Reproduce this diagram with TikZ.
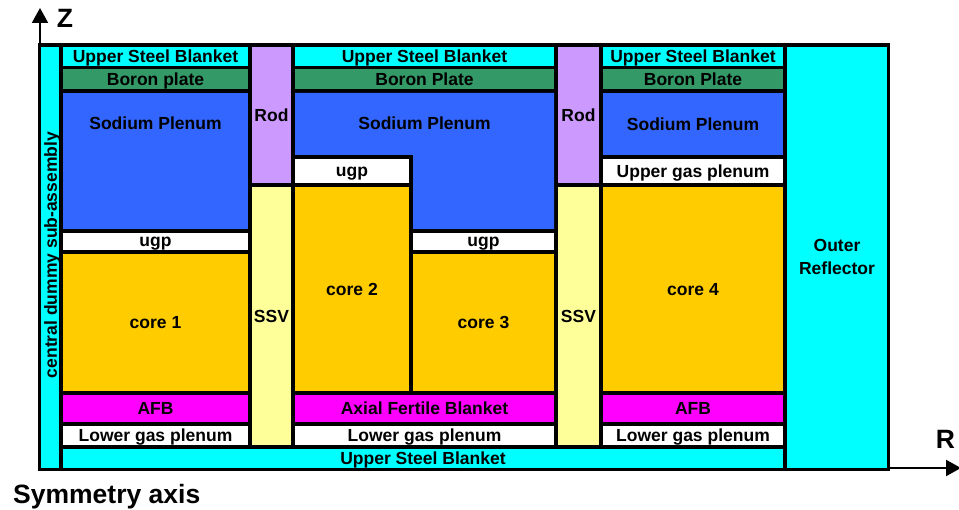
\documentclass[tikz,border=0pt]{standalone}
\usepackage{fontspec}
\setmainfont{Liberation Sans}
\usetikzlibrary{arrows.meta}
\definecolor{cyanc}{HTML}{00FFFF}
\definecolor{boronc}{HTML}{339966}
\definecolor{sodiumc}{HTML}{3366FF}
\definecolor{rodc}{HTML}{CC99FF}
\definecolor{ssvc}{HTML}{FFFF99}
\definecolor{corec}{HTML}{FFCC00}
\definecolor{afbc}{HTML}{FF00FF}
\begin{document}
\begin{tikzpicture}[x=1pt,y=-1pt,
  lbl/.style={font=\fontsize{17.5}{21}\selectfont\bfseries, inner sep=0pt, text height=12.5pt, text depth=0pt},
  axlbl/.style={font=\fontsize{26.5}{30}\selectfont\bfseries, inner sep=0pt, text height=19pt, text depth=0pt},
  axisarrow/.style={line width=2pt, -{Triangle[length=15pt,width=16pt]}}]
\useasboundingbox (0,0) rectangle (959,510);
% frame
\fill[black] (38,43) rectangle (890,471);
% central dummy
\fill[cyanc] (41,47) rectangle (59,468);
% column 1
\fill[cyanc] (63,47) rectangle (248,66);
\fill[boronc] (63,69) rectangle (248,89);
\fill[sodiumc] (63,93) rectangle (248,229);
\fill[white] (63,233) rectangle (248,250);
\fill[corec] (63,254) rectangle (248,391);
\fill[afbc] (63,395) rectangle (248,422);
\fill[white] (63,426) rectangle (248,445);
% rod / ssv 1
\fill[rodc] (252,47) rectangle (291,183);
\fill[ssvc] (252,187) rectangle (291,445);
% column 2-3
\fill[cyanc] (295,47) rectangle (554,66);
\fill[boronc] (295,69) rectangle (554,89);
\fill[sodiumc] (295,93) -- (554,93) -- (554,229) -- (413,229) -- (413,155) -- (295,155) -- cycle;
\fill[white] (295,159) rectangle (409,183);
\fill[corec] (295,187) rectangle (409,391);
\fill[white] (413,233) rectangle (554,250);
\fill[corec] (413,254) rectangle (554,391);
\fill[afbc] (295,395) rectangle (554,422);
\fill[white] (295,426) rectangle (554,445);
% rod / ssv 2
\fill[rodc] (558,47) rectangle (599,183);
\fill[ssvc] (558,187) rectangle (599,445);
% column 4
\fill[cyanc] (603,47) rectangle (783,66);
\fill[boronc] (603,69) rectangle (783,89);
\fill[sodiumc] (603,93) rectangle (783,155);
\fill[white] (603,159) rectangle (783,183);
\fill[corec] (603,187) rectangle (783,391);
\fill[afbc] (603,395) rectangle (783,422);
\fill[white] (603,426) rectangle (783,445);
% bottom blanket and reflector
\fill[cyanc] (63,449) rectangle (783,468);
\fill[cyanc] (787,47) rectangle (887,468);

% labels
\node[lbl, rotate=90] (cdsa) at (50.5,255) {central dummy sub-assembly};
\node[lbl] (usb1) at (155.5,56.5) {Upper Steel Blanket};
\node[lbl] (bp1) at (155.5,79) {Boron plate};
\node[lbl] (sp1) at (155.5,123) {Sodium Plenum};
\node[lbl] (ugp1) at (155.5,240) {ugp};
\node[lbl] (core1) at (155.5,322.5) {core 1};
\node[lbl] (afb1) at (155.5,408.5) {AFB};
\node[lbl] (lgp1) at (155.5,435.5) {Lower gas plenum};
\node[lbl] (rod1) at (271.5,115) {Rod};
\node[lbl] (ssv1) at (271.5,316) {SSV};
\node[lbl] (usb2) at (424.5,56.5) {Upper Steel Blanket};
\node[lbl] (bp2) at (424.5,79) {Boron Plate};
\node[lbl] (sp2) at (424.5,123) {Sodium Plenum};
\node[lbl] (ugp2) at (352,170) {ugp};
\node[lbl] (core2) at (352,289) {core 2};
\node[lbl] (ugp3) at (483.5,240) {ugp};
\node[lbl] (core3) at (483.5,322.5) {core 3};
\node[lbl] (afb2) at (424.5,408.5) {Axial Fertile Blanket};
\node[lbl] (lgp2) at (424.5,435.5) {Lower gas plenum};
\node[lbl] (rod2) at (578.5,115) {Rod};
\node[lbl] (ssv2) at (578.5,316) {SSV};
\node[lbl] (usb4) at (693,56.5) {Upper Steel Blanket};
\node[lbl] (bp4) at (693,79) {Boron Plate};
\node[lbl] (sp4) at (693,124) {Sodium Plenum};
\node[lbl] (ugp4) at (693,171) {Upper gas plenum};
\node[lbl] (core4) at (693,289) {core 4};
\node[lbl] (afb4) at (693,408.5) {AFB};
\node[lbl] (lgp4) at (693,435.5) {Lower gas plenum};
\node[lbl] (usbb) at (423,458.5) {Upper Steel Blanket};
\node[lbl] (outer) at (837,245) {Outer};
\node[lbl] (refl) at (837,268) {Reflector};

% axes
\coordinate (zbase) at (40,43);
\coordinate (ztip) at (40,8);
\coordinate (rbase) at (890,468);
\coordinate (rtip) at (961,468);
\draw[axisarrow] (zbase) -- (ztip);
\draw[axisarrow] (rbase) -- (rtip);
\node[axlbl] (zlbl) at (65,18.5) {Z};
\node[axlbl] (rlbl) at (945.5,439) {R};
\node[axlbl, anchor=west] (sym) at (13,494) {Symmetry axis};
\end{tikzpicture}
\end{document}
